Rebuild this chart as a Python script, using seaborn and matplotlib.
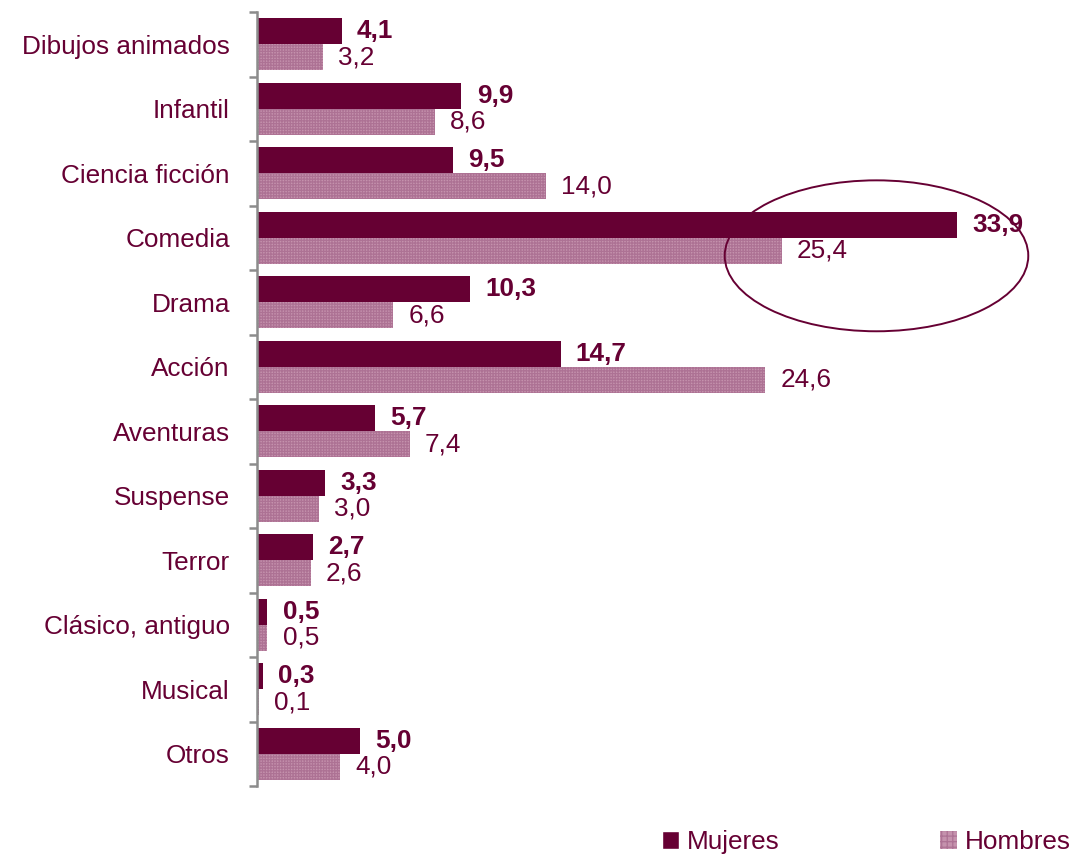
import numpy as np
import pandas as pd
import matplotlib
matplotlib.use('Agg')
import matplotlib.pyplot as plt
from matplotlib.patches import Ellipse, Patch
import seaborn as sns

sns.set_style('white')
plt.rcParams['font.family'] = ['Liberation Sans', 'DejaVu Sans']
plt.rcParams['hatch.linewidth'] = 0.9

generos = ['Dibujos animados', 'Infantil', 'Ciencia ficción', 'Comedia', 'Drama',
           'Acción', 'Aventuras', 'Suspense', 'Terror', 'Clásico, antiguo',
           'Musical', 'Otros']
mujeres = [4.1, 9.9, 9.5, 33.9, 10.3, 14.7, 5.7, 3.3, 2.7, 0.5, 0.3, 5.0]
hombres = [3.2, 8.6, 14.0, 25.4, 6.6, 24.6, 7.4, 3.0, 2.6, 0.5, 0.1, 4.0]
series = ['Mujeres', 'Hombres']

txt = '#660033'
c_muj = '#660033'
c_hom = '#c592ad'
c_hatch = '#ad7294'
fs = 18.8

df = pd.DataFrame({
    'genero': generos * 2,
    'valor': mujeres + hombres,
    'sexo': [series[0]] * len(generos) + [series[1]] * len(generos),
})

fig = plt.figure(figsize=(10.77, 8.58), dpi=100)
ax = fig.add_axes([257 / 1077, 1 - 786 / 858, 800 / 1077, 774 / 858])

sns.barplot(data=df, y='genero', x='valor', hue='sexo', orient='h',
            palette=[c_muj, c_hom], saturation=1, width=0.8, linewidth=0,
            legend=False, ax=ax)

for p in ax.containers[1]:
    p.set_hatch('++++++')
    p.set_edgecolor(c_hatch)
    p.set_linewidth(0)

# value labels
for cont, vals, bold in [(ax.containers[0], mujeres, True), (ax.containers[1], hombres, False)]:
    for p, v in zip(cont, vals):
        y = p.get_y() + p.get_height() / 2
        ax.annotate(f'{v:.1f}'.replace('.', ','), (p.get_width(), y),
                    xytext=(11, 0), textcoords='offset points', va='center', ha='left',
                    fontsize=fs, color=txt, fontweight='bold' if bold else 'normal')

ax.set_xlim(0, 800 / 20.65)
ax.set_ylim(len(generos) - 0.5, -0.5)
ax.set_xlabel('')
ax.set_ylabel('')
ax.set_xticks([])
for s in ['top', 'right', 'bottom']:
    ax.spines[s].set_visible(False)
ax.spines['left'].set_color('#8c8c8c')
ax.spines['left'].set_linewidth(1.8)

ax.set_yticks(np.arange(len(generos)))
ax.set_yticklabels(generos, fontsize=fs, color=txt)
ax.tick_params(axis='y', which='major', length=0, pad=19.5)
ax.set_yticks(np.arange(len(generos) + 1) - 0.5, minor=True)
ax.tick_params(axis='y', which='minor', left=True, direction='out', length=6,
               width=1.8, color='#8c8c8c')

# highlight ellipse around Comedia
ell = Ellipse((30.0, 3.28), 14.7, 2.34, fill=False, edgecolor=txt, linewidth=1.4,
              clip_on=False)
ax.add_patch(ell)

handles = [Patch(facecolor=c_muj, label=series[0]),
           Patch(facecolor=c_hom, edgecolor=c_hatch, hatch='+++', linewidth=0, label=series[1])]
leg = fig.legend(handles=handles, loc='center left', ncol=2,
                 bbox_to_anchor=(649 / 1077, 1 - 842 / 858), frameon=False,
                 fontsize=fs, handlelength=0.65, handleheight=0.65,
                 handletextpad=0.3, columnspacing=6.15, borderpad=0)
for t in leg.get_texts():
    t.set_color(txt)

fig.savefig('out.png', dpi=100)
